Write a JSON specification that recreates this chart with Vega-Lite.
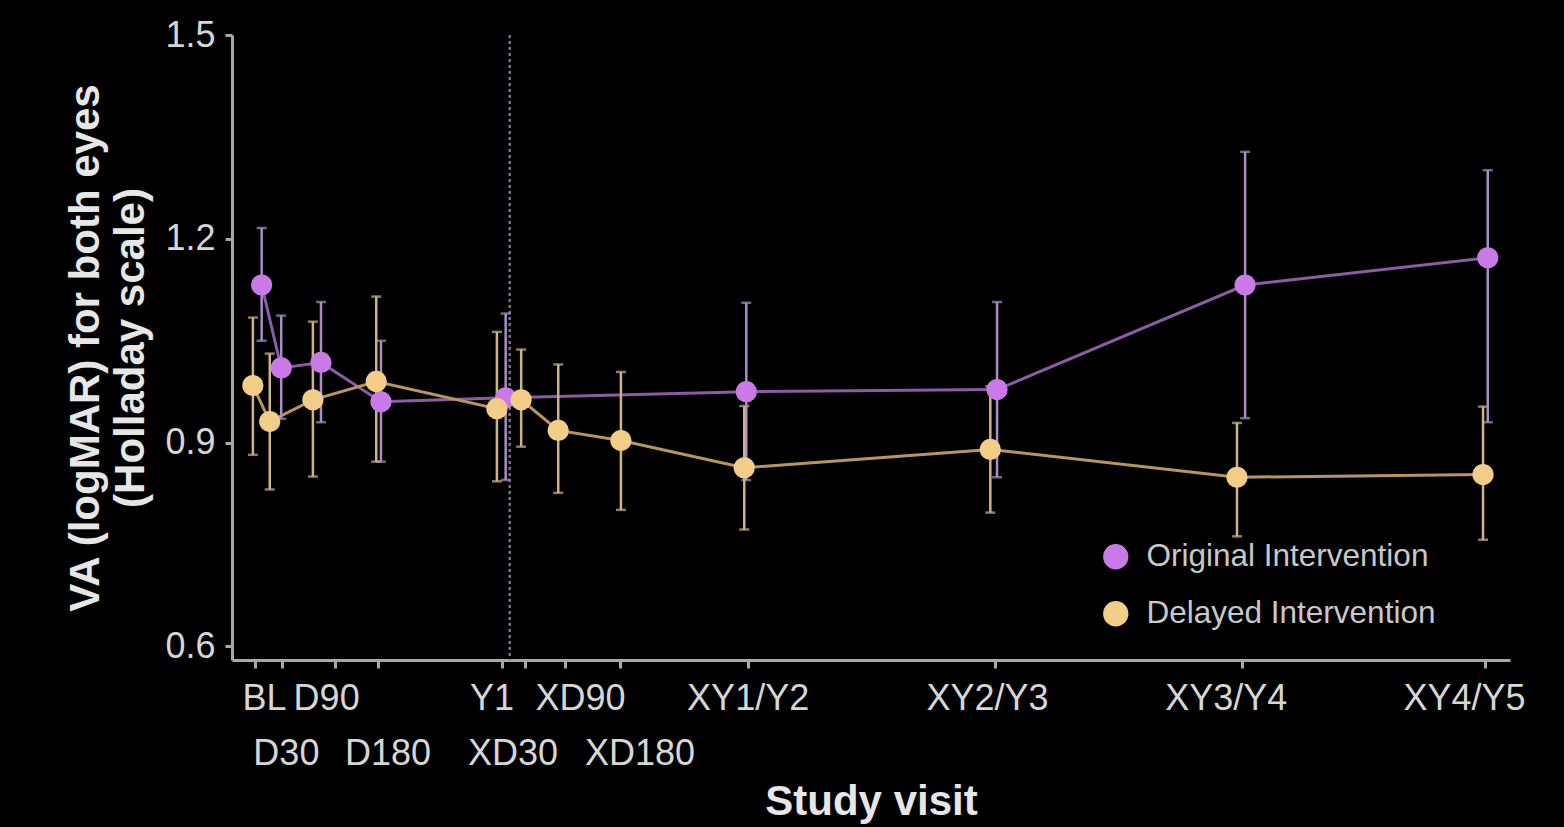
{
  "$schema": "https://vega.github.io/schema/vega-lite/v6.json",
  "width": 1278,
  "height": 625,
  "autosize": {"type": "none"},
  "padding": {"left": 232, "top": 35, "right": 54, "bottom": 167},
  "background": "#000000",
  "config": {
    "view": {"stroke": null},
    "font": "Liberation Sans",
    "axis": {
      "grid": false,
      "domainColor": "#a8a8a8",
      "domainWidth": 3,
      "tickColor": "#a8a8a8",
      "tickWidth": 3,
      "tickSize": 8,
      "labelColor": "#d6d6d6",
      "labelFont": "Liberation Sans",
      "labelFontSize": 36,
      "titleColor": "#e6e6e6",
      "titleFont": "Liberation Sans",
      "titleFontWeight": "bold",
      "titleFontSize": 42
    },
    "legend": {
      "orient": "none",
      "legendX": 868,
      "legendY": 506,
      "labelColor": "#c8c8c8",
      "labelFont": "Liberation Sans",
      "labelFontSize": 31.5,
      "labelLimit": 600,
      "symbolSize": 640,
      "symbolType": "circle",
      "symbolStrokeWidth": 0,
      "rowPadding": 24,
      "labelOffset": 15
    }
  },
  "datasets": {
    "visits": [
      {"group": "Original Intervention", "visit": "BL", "day": 10, "va": 1.132, "lo": 1.05, "hi": 1.216},
      {"group": "Original Intervention", "visit": "D30", "day": 39, "va": 1.010, "lo": 0.935, "hi": 1.087},
      {"group": "Original Intervention", "visit": "D90", "day": 98, "va": 1.018, "lo": 0.93, "hi": 1.107},
      {"group": "Original Intervention", "visit": "D180", "day": 187, "va": 0.960, "lo": 0.872, "hi": 1.05},
      {"group": "Original Intervention", "visit": "Y1", "day": 372, "va": 0.966, "lo": 0.845, "hi": 1.09},
      {"group": "Original Intervention", "visit": "Y2", "day": 729, "va": 0.975, "lo": 0.845, "hi": 1.106},
      {"group": "Original Intervention", "visit": "Y3", "day": 1101, "va": 0.978, "lo": 0.849, "hi": 1.107},
      {"group": "Original Intervention", "visit": "Y4", "day": 1469, "va": 1.132, "lo": 0.936, "hi": 1.328},
      {"group": "Original Intervention", "visit": "Y5", "day": 1829, "va": 1.172, "lo": 0.93, "hi": 1.301},
      {"group": "Delayed Intervention", "visit": "BL", "day": -3, "va": 0.984, "lo": 0.882, "hi": 1.084},
      {"group": "Delayed Intervention", "visit": "D30", "day": 22, "va": 0.931, "lo": 0.831, "hi": 1.031},
      {"group": "Delayed Intervention", "visit": "D90", "day": 86, "va": 0.963, "lo": 0.85, "hi": 1.078},
      {"group": "Delayed Intervention", "visit": "D180", "day": 180, "va": 0.990, "lo": 0.872, "hi": 1.115},
      {"group": "Delayed Intervention", "visit": "Y1", "day": 359, "va": 0.950, "lo": 0.843, "hi": 1.063},
      {"group": "Delayed Intervention", "visit": "XD30", "day": 395, "va": 0.963, "lo": 0.894, "hi": 1.037},
      {"group": "Delayed Intervention", "visit": "XD90", "day": 450, "va": 0.918, "lo": 0.826, "hi": 1.015},
      {"group": "Delayed Intervention", "visit": "XD180", "day": 543, "va": 0.903, "lo": 0.801, "hi": 1.004},
      {"group": "Delayed Intervention", "visit": "XY1", "day": 726, "va": 0.863, "lo": 0.772, "hi": 0.954},
      {"group": "Delayed Intervention", "visit": "XY2", "day": 1091, "va": 0.890, "lo": 0.797, "hi": 0.983},
      {"group": "Delayed Intervention", "visit": "XY3", "day": 1457, "va": 0.849, "lo": 0.762, "hi": 0.929},
      {"group": "Delayed Intervention", "visit": "XY4", "day": 1822, "va": 0.853, "lo": 0.757, "hi": 0.953}
    ],
    "crossover": [
      {"day": 378}
    ]
  },
  "encoding": {
    "x": {
      "field": "day", "type": "quantitative",
      "scale": {"domain": [-34, 1862], "nice": false, "zero": false},
      "axis": {
        "title": "Study visit",
        "titlePadding": 10,
        "values": [0, 40, 119, 182, 366, 400, 460, 541, 731, 1098, 1464, 1825],
        "labelExpr": "datum.value === 0 ? 'BL' : datum.value === 40 ? ['', 'D30'] : datum.value === 119 ? 'D90' : datum.value === 182 ? ['', 'D180'] : datum.value === 366 ? 'Y1' : datum.value === 400 ? ['', 'XD30'] : datum.value === 460 ? 'XD90' : datum.value === 541 ? ['', 'XD180'] : datum.value === 731 ? 'XY1/Y2' : datum.value === 1098 ? 'XY2/Y3' : datum.value === 1464 ? 'XY3/Y4' : 'XY4/Y5'",
        "labelOffset": {
          "condition": [
            {"test": "datum.value === 0", "value": 9},
            {"test": "datum.value === 40", "value": 4},
            {"test": "datum.value === 119", "value": -9},
            {"test": "datum.value === 182", "value": 10},
            {"test": "datum.value === 366", "value": -10},
            {"test": "datum.value === 400", "value": -12},
            {"test": "datum.value === 460", "value": 15},
            {"test": "datum.value === 541", "value": 20},
            {"test": "datum.value === 1098", "value": -8},
            {"test": "datum.value === 1464", "value": -16},
            {"test": "datum.value === 1825", "value": -21}
          ],
          "value": 0
        },
        "labelOverlap": false,
        "labelFlush": false,
        "labelLineHeight": 55,
        "labelPadding": 13
      }
    }
  },
  "layer": [
    {
      "data": {"name": "crossover"},
      "mark": {"type": "rule", "color": "#77728a", "strokeWidth": 2.5, "strokeDash": [3, 3]},
      "encoding": {}
    },
    {
      "data": {"name": "visits"},
      "mark": {"type": "line", "strokeWidth": 3},
      "encoding": {
        "y": {
          "field": "va", "type": "quantitative",
          "scale": {"domain": [0.58, 1.5], "nice": false, "zero": false},
          "axis": {
            "title": ["VA (logMAR) for both eyes", "(Holladay scale)"],
            "titleLineHeight": 45,
            "titlePadding": 12,
            "values": [0.6, 0.9, 1.2, 1.5],
            "format": ".1f",
            "labelPadding": 10,
            "tickSize": 7
          }
        },
        "order": {"field": "day", "type": "quantitative"},
        "color": {
          "field": "group", "type": "nominal", "legend": null,
          "scale": {"domain": ["Original Intervention", "Delayed Intervention"], "range": ["#8a5ca6", "#b8955f"]}
        }
      }
    },
    {
      "data": {"name": "visits"},
      "mark": {"type": "errorbar", "ticks": {"size": 10}, "thickness": 2.5},
      "encoding": {
        "y": {
          "field": "lo", "type": "quantitative",
          "axis": {
            "title": ["VA (logMAR) for both eyes", "(Holladay scale)"],
            "titleLineHeight": 45,
            "titlePadding": 12,
            "values": [0.6, 0.9, 1.2, 1.5],
            "format": ".1f",
            "labelPadding": 10,
            "tickSize": 7
          }
        },
        "y2": {"field": "hi"},
        "color": {
          "field": "group", "type": "nominal", "legend": null,
          "scale": {"domain": ["Original Intervention", "Delayed Intervention"], "range": ["#a98ec6", "#cdb487"]}
        }
      }
    },
    {
      "data": {"name": "visits"},
      "mark": {"type": "point", "filled": true, "size": 450, "opacity": 1},
      "encoding": {
        "y": {
          "field": "va", "type": "quantitative",
          "axis": {
            "title": ["VA (logMAR) for both eyes", "(Holladay scale)"],
            "titleLineHeight": 45,
            "titlePadding": 12,
            "values": [0.6, 0.9, 1.2, 1.5],
            "format": ".1f",
            "labelPadding": 10,
            "tickSize": 7
          }
        },
        "color": {
          "field": "group", "type": "nominal",
          "scale": {"domain": ["Original Intervention", "Delayed Intervention"], "range": ["#c97ae6", "#f2cd88"]},
          "legend": {"title": null}
        }
      }
    }
  ],
  "resolve": {"scale": {"color": "independent"}}
}
